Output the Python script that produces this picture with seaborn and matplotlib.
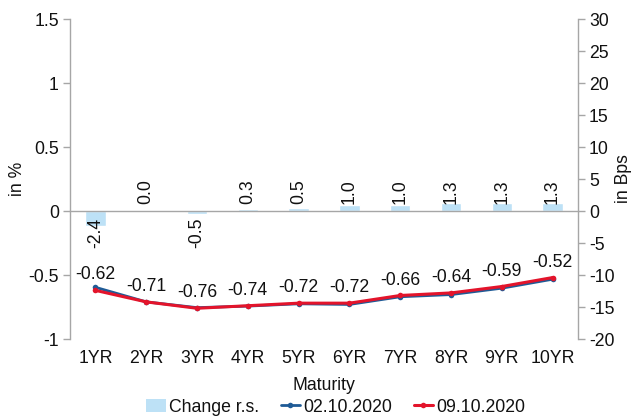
import numpy as np
import pandas as pd
import matplotlib
matplotlib.use("Agg")
import matplotlib.pyplot as plt
from matplotlib.lines import Line2D
from matplotlib.patches import Patch
from matplotlib.ticker import FuncFormatter
import seaborn as sns

# Yield curve data
maturities = ["1YR", "2YR", "3YR", "4YR", "5YR", "6YR", "7YR", "8YR", "9YR", "10YR"]
yield_0210 = [-0.596, -0.710, -0.755, -0.743, -0.725, -0.730, -0.670, -0.653, -0.603, -0.533]
yield_0910 = [-0.62, -0.71, -0.76, -0.74, -0.72, -0.72, -0.66, -0.64, -0.59, -0.52]
change_bps = [-2.4, 0.0, -0.5, 0.3, 0.5, 1.0, 1.0, 1.3, 1.3, 1.3]

BAR_COLOR = "#BDE1F6"
BLUE = "#1F5B96"
RED = "#E3142B"
SPINE = "#A6A6A6"
TEXT = "#111111"

sns.set_theme(style="white")
plt.rcParams["font.family"] = ["Liberation Sans", "DejaVu Sans"]
plt.rcParams["axes.unicode_minus"] = False
FS = 12.7

fig = plt.figure(figsize=(6.35, 4.18), dpi=100)
ax = fig.add_axes([70 / 635, 1 - 339 / 418, 508 / 635, 320 / 418])
ax2 = ax.twinx()

# Change in basis points on the secondary axis
sns.barplot(x=maturities, y=change_bps, color=BAR_COLOR, saturation=1,
            width=0.4, ax=ax2, zorder=1)

# Yield curves on the primary axis
sns.lineplot(x=maturities, y=yield_0210, color=BLUE, linewidth=2.0,
             marker="o", markersize=4, markeredgewidth=0, sort=False, ax=ax)
sns.lineplot(x=maturities, y=yield_0910, color=RED, linewidth=2.2,
             marker="o", markersize=4, markeredgewidth=0, sort=False, ax=ax)

ax.set_zorder(ax2.get_zorder() + 1)
ax.patch.set_visible(False)

ax.set_xlim(-0.5, len(maturities) - 0.5)
ax.set_ylim(-1, 1.5)
ax2.set_ylim(-20, 30)
ax.set_yticks(np.arange(-1, 1.51, 0.5))
ax2.set_yticks(np.arange(-20, 31, 5))
fmt = FuncFormatter(lambda v, p: f"{v:g}")
ax.yaxis.set_major_formatter(fmt)
ax2.yaxis.set_major_formatter(fmt)

# Category axis drawn along the zero line
ax.spines["bottom"].set_position(("data", 0))
ax.spines["top"].set_visible(False)
ax.spines["right"].set_visible(False)
ax2.spines["top"].set_visible(False)
ax2.spines["left"].set_visible(False)
ax2.spines["bottom"].set_visible(False)
for sp in (ax.spines["bottom"], ax.spines["left"], ax2.spines["right"]):
    sp.set_color(SPINE)
    sp.set_linewidth(1.0)

ax.set_xticks(range(len(maturities)))
ax.set_xticklabels(maturities)
ax.set_xticks(np.arange(0.5, len(maturities) - 1, 1), minor=True)
ax.tick_params(axis="x", which="major", length=0, pad=100, labelsize=FS, labelcolor=TEXT)
ax.tick_params(axis="x", which="minor", length=5, width=1, color=SPINE, direction="out")
ax.tick_params(axis="y", which="major", left=True, length=5, width=1, color=SPINE,
               direction="out", labelsize=FS, labelcolor=TEXT, pad=3)
ax2.tick_params(axis="y", which="major", right=True, length=5, width=1, color=SPINE,
                direction="out", labelsize=FS, labelcolor=TEXT, pad=3)

ax.set_xlabel("Maturity", fontsize=FS, color=TEXT, labelpad=7)
ax.set_ylabel("in %", fontsize=FS, color=TEXT, labelpad=2)
ax2.set_ylabel("in Bps", fontsize=FS, color=TEXT, labelpad=0.5)
ax.grid(False)
ax2.grid(False)

# Value labels for the bars, placed beside the zero line
for i, v in enumerate(change_bps):
    off = 5 if v >= 0 else -5
    ax2.annotate(f"{v:.1f}", xy=(i, 0), xytext=(0, off), textcoords="offset points",
                 rotation=90, ha="center", va="bottom" if v >= 0 else "top",
                 fontsize=FS, color=TEXT)

# Value labels for the latest curve
for i, v in enumerate(yield_0910):
    ax.annotate(f"{v:.2f}", xy=(i, v), xytext=(0, 5), textcoords="offset points",
                ha="center", va="bottom", fontsize=FS, color=TEXT)

handles = [
    Patch(facecolor=BAR_COLOR, edgecolor="none"),
    Line2D([], [], color=BLUE, lw=2.0, marker="o", ms=4, mew=0),
    Line2D([], [], color=RED, lw=2.2, marker="o", ms=4, mew=0),
]
labels = ["Change r.s.", "02.10.2020", "09.10.2020"]
fig.legend(handles, labels, loc="center", bbox_to_anchor=(336 / 635, 1 - 407 / 418),
           ncol=3, frameon=False, fontsize=FS, handlelength=1.1, handletextpad=0.2,
           columnspacing=1.2, borderpad=0, labelcolor=TEXT)

fig.savefig("out.png", dpi=100, facecolor="white")
